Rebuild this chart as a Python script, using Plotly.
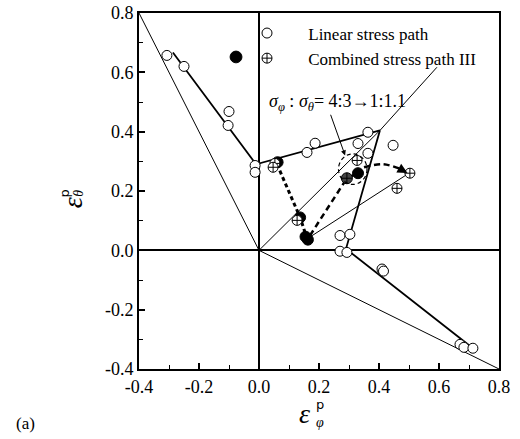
import plotly.graph_objects as go

# ---- data ----
linear_x = [-0.307, -0.25, -0.10, -0.103, -0.013, -0.013, 0.16, 0.187, 0.363, 0.33, 0.363,
            0.447, 0.27, 0.303, 0.27, 0.293, 0.41, 0.415, 0.67, 0.683, 0.713]
linear_y = [0.657, 0.62, 0.468, 0.421, 0.286, 0.263, 0.33, 0.361, 0.398, 0.36, 0.327,
            0.354, 0.05, 0.054, -0.003, -0.007, -0.063, -0.07, -0.317, -0.327, -0.33]

filled_x = [0.062, 0.137, 0.155, 0.163, 0.33]
filled_y = [0.297, 0.111, 0.046, 0.036, 0.26]

crossed_x = [0.053, 0.047, 0.127, 0.327, 0.503, 0.46]
crossed_y = [0.293, 0.28, 0.101, 0.303, 0.26, 0.209]

half_x = [0.293]
half_y = [0.243]

# fitted linear-path line (thick)
fit_x = [-0.287, -0.01, 0.403, 0.29, 0.713]
fit_y = [0.667, 0.29, 0.404, 0.005, -0.33]

# thin reference lines
ref_lines = [
    ([0.0, -0.4], [0.0, 0.8]),
    ([0.0, 0.8], [0.0, -0.4]),
    ([0.0, 0.403, 0.593], [0.0, 0.404, 0.617]),
    ([0.17, 0.5], [0.045, 0.26]),
]

# dashed combined paths
dash1_x = [0.06, 0.137, 0.16]
dash1_y = [0.29, 0.111, 0.04]
dash2_x = [0.17, 0.293, 0.33]
dash2_y = [0.05, 0.243, 0.26]
arc_x = [0.35, 0.413, 0.47]
arc_y = [0.28, 0.29, 0.275]

x_tickvals = [-0.4, -0.2, 0.0, 0.2, 0.4, 0.6, 0.8]
x_ticktext = ["-0.4", "-0.2", "0.0", "0.2", "0.4", "0.6", "0.8"]
y_tickvals = [-0.4, -0.2, 0.0, 0.2, 0.4, 0.6, 0.8]
y_ticktext = ["-0.4", "-0.2", "0.0", "0.2", "0.4", "0.6", "0.8"]

FONT = "Liberation Serif, Times New Roman, DejaVu Serif, serif"
PAD = "\u00a0" * 5

fig = go.Figure()

for lx, ly in ref_lines:
    fig.add_trace(go.Scatter(x=lx, y=ly, mode="lines", line=dict(color="black", width=1),
                             showlegend=False, hoverinfo="skip"))

fig.add_trace(go.Scatter(x=fit_x, y=fit_y, mode="lines", line=dict(color="black", width=1.8),
                         showlegend=False))

fig.add_trace(go.Scatter(x=dash1_x, y=dash1_y, mode="lines",
                         line=dict(color="black", width=3, dash="4px,3px"), showlegend=False))
fig.add_trace(go.Scatter(x=dash2_x, y=dash2_y, mode="lines",
                         line=dict(color="black", width=2.5, dash="6px,4px"), showlegend=False))
fig.add_trace(go.Scatter(x=arc_x, y=arc_y, mode="lines",
                         line=dict(color="black", width=2.5, dash="6px,4px", shape="spline"),
                         showlegend=False))

fig.add_trace(go.Scatter(x=linear_x, y=linear_y, mode="markers", name=PAD + "Linear stress path",
                         legendgroup="a",
                         marker=dict(symbol="circle", size=10, color="white",
                                     line=dict(color="black", width=1))))
fig.add_trace(go.Scatter(x=filled_x, y=filled_y, mode="markers", showlegend=False,
                         marker=dict(symbol="circle", size=11, color="black",
                                     line=dict(color="black", width=1))))
fig.add_trace(go.Scatter(x=half_x, y=half_y, mode="markers", showlegend=False,
                         marker=dict(symbol="circle-cross", size=11, color="#444",
                                     line=dict(color="black", width=1))))
fig.add_trace(go.Scatter(x=crossed_x, y=crossed_y, mode="markers",
                         name=PAD + "Combined stress path III", legendgroup="b",
                         marker=dict(symbol="circle-cross", size=10, color="white",
                                     line=dict(color="black", width=1))))


def ann(x, y, text, size, family=FONT, angle=0):
    return dict(x=x, y=y, xref="paper", yref="paper", showarrow=False, text=text,
                xanchor="center", yanchor="middle", textangle=angle,
                font=dict(family=family, size=size, color="black"))


annotations = [
    dict(x=0.263, y=0.499, xref="x", yref="y", showarrow=False, xanchor="center", yanchor="middle",
         text="<i>σ</i><sub><i>φ</i></sub> : <i>σ</i><sub><i>θ</i></sub>= 4:3→1:1.1",
         font=dict(family=FONT, size=18, color="black")),
    dict(x=0.287, y=0.32, xref="x", yref="y", ax=0.237, ay=0.462, axref="x", ayref="y",
         showarrow=True, arrowhead=2, arrowsize=1, arrowwidth=1, arrowcolor="black", text=""),
    dict(x=0.495, y=0.261, xref="x", yref="y", ax=0.47, ay=0.275, axref="x", ayref="y",
         showarrow=True, arrowhead=2, arrowsize=0.8, arrowwidth=2.5, arrowcolor="black", text=""),
    # x title
    ann(0.461, -0.126, "<i>ε</i>", 28),
    ann(0.503, -0.101, "p", 13, family="DejaVu Sans"),
    ann(0.503, -0.150, "<i>φ</i>", 14),
    # y title
    ann(-0.186, 0.466, "<i>ε</i>", 28, angle=-90),
    ann(-0.207, 0.494, "p", 13, family="DejaVu Sans", angle=-90),
    ann(-0.168, 0.494, "<i>θ</i>", 14, angle=-90),
    ann(-0.314, -0.152, "(a)", 17),
]

shapes = [
    dict(type="circle", xref="x", yref="y", x0=0.265, x1=0.36, y0=0.222, y1=0.325,
         line=dict(color="black", width=1.2, dash="4px,3px")),
    dict(type="circle", xref="paper", yref="paper", x0=0.253, x1=0.286, y0=0.860, y1=0.893,
         fillcolor="black", line=dict(color="black", width=1)),
]

axis_common = dict(showgrid=False, zeroline=True, zerolinecolor="black", zerolinewidth=2,
                   showline=True, linecolor="black", linewidth=2, mirror=True, automargin=False,
                   ticks="inside", ticklen=6, tickwidth=1.5, tickcolor="black",
                   minor=dict(ticks="inside", ticklen=4, tickwidth=1, tickcolor="black", dtick=0.1),
                   tickfont=dict(family=FONT, size=18, color="black"))

fig.update_layout(
    width=520, height=439,
    margin=dict(l=139, r=21, t=13, b=70, autoexpand=False),
    paper_bgcolor="white", plot_bgcolor="white",
    xaxis=dict(range=[-0.4, 0.8], tickvals=x_tickvals, ticktext=x_ticktext, **axis_common),
    yaxis=dict(range=[-0.4, 0.8], tickvals=y_tickvals, ticktext=y_ticktext, **axis_common),
    legend=dict(x=0.30, y=0.993, xanchor="left", yanchor="top", bgcolor="rgba(0,0,0,0)",
                font=dict(family=FONT, size=17, color="black"), itemwidth=30, tracegroupgap=0),
    annotations=annotations,
    shapes=shapes,
)

fig.write_html("out.html")
